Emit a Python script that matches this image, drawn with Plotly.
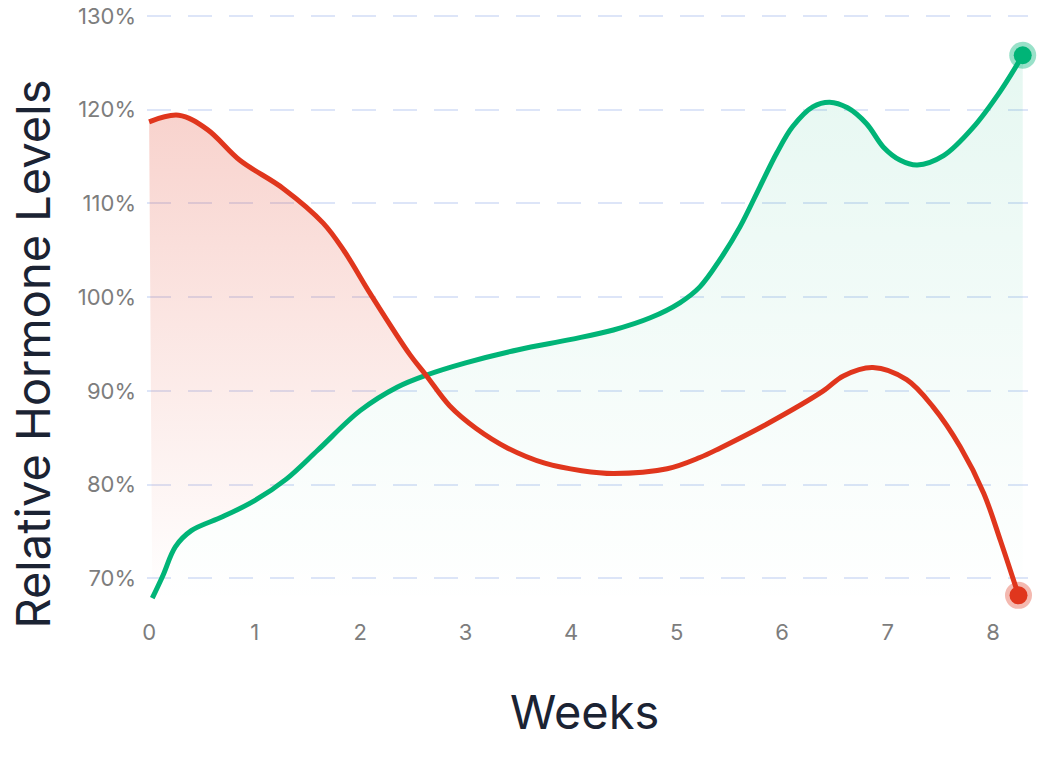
import plotly.graph_objects as go

# Weeks / relative levels (%)
red_x = [0.0, 0.28, 0.55, 0.86, 1.27, 1.65, 1.85, 2.1, 2.47, 2.63, 2.85, 3.1, 3.4,
         3.75, 4.1, 4.4, 4.91, 5.22, 5.41, 5.86, 6.39, 6.58, 6.86, 7.18, 7.43, 7.69, 7.91,
         8.07, 8.24]
red_y = [118.7, 119.4, 117.9, 114.6, 111.6, 107.9, 104.9, 100.3, 93.9, 91.6, 88.4,
         86.0, 83.9, 82.3, 81.5, 81.2, 81.7, 82.9, 83.9, 86.5, 90.0, 91.6, 92.5, 91.2, 88.3,
         84.0, 79.1, 74.0, 68.2]

green_x = [0.03, 0.13, 0.25, 0.4, 0.7, 1.0, 1.3, 1.6, 2.0, 2.35, 2.63, 3.0, 3.5, 4.0, 4.4,
           4.75, 5.03, 5.22, 5.41, 5.6, 5.79, 5.95, 6.1, 6.29, 6.45, 6.62, 6.8, 6.96, 7.12,
           7.28, 7.53, 7.81, 8.07, 8.28]
green_y = [67.9, 70.3, 73.4, 75.1, 76.6, 78.3, 80.6, 83.7, 87.9, 90.4, 91.7, 93.0, 94.4, 95.5,
           96.5, 97.8, 99.4, 101.1, 104.0, 107.5, 111.8, 115.4, 118.2, 120.3, 120.8, 120.2,
           118.5, 116.0, 114.6, 114.1, 115.1, 118.1, 122.0, 125.8]

x_ticks = [0, 1, 2, 3, 4, 5, 6, 7, 8]
y_ticks = [70, 80, 90, 100, 110, 120, 130]
y_labels = [f"{v}%" for v in y_ticks]

RED = "#e0361d"
GREEN = "#00b477"
crossing = 2.63

fig = go.Figure()

# shaded band where the red curve sits above the green one
band_x = [x for x in red_x if x <= crossing] + [x for x in green_x if x <= crossing][::-1]
band_y = ([y for x, y in zip(red_x, red_y) if x <= crossing]
          + [y for x, y in zip(green_x, green_y) if x <= crossing][::-1])
fig.add_trace(go.Scatter(
    x=band_x, y=band_y, mode="lines", fill="toself",
    line=dict(width=0, shape="spline"),
    fillgradient=dict(type="vertical", start=68, stop=119.5,
                      colorscale=[[0, "rgba(224,54,29,0)"], [1, "rgba(224,54,29,0.22)"]]),
    hoverinfo="skip", showlegend=False,
))

# green area down to the bottom
fig.add_trace(go.Scatter(
    x=green_x, y=green_y, mode="lines", fill="tozeroy",
    line=dict(width=0, shape="spline"),
    fillgradient=dict(type="vertical", start=67, stop=126,
                      colorscale=[[0, "rgba(0,180,119,0)"], [1, "rgba(0,180,119,0.1)"]]),
    hoverinfo="skip", showlegend=False,
))

for xs, ys, col in [(green_x, green_y, GREEN), (red_x, red_y, RED)]:
    fig.add_trace(go.Scatter(
        x=xs, y=ys, mode="lines",
        line=dict(color=col, width=5, shape="spline"),
        showlegend=False,
    ))

# end-point dots with a soft halo
for xs, ys, halo, col in [(green_x, green_y, "rgba(0,180,119,0.4)", GREEN),
                          (red_x, red_y, "rgba(224,54,29,0.35)", RED)]:
    fig.add_trace(go.Scatter(
        x=[xs[-1]], y=[ys[-1]], mode="markers", cliponaxis=False,
        marker=dict(size=27, color=halo), hoverinfo="skip", showlegend=False,
    ))
    fig.add_trace(go.Scatter(
        x=[xs[-1]], y=[ys[-1]], mode="markers", cliponaxis=False,
        marker=dict(size=18, color=col), showlegend=False,
    ))

tick_font = dict(family="Inter, sans-serif", size=22, color="#7d7d7d")
title_font = dict(family="Inter, sans-serif", size=47, color="#1b2333")

fig.update_layout(
    width=1040, height=759,
    margin=dict(l=147, r=12, t=14, b=143),
    paper_bgcolor="white", plot_bgcolor="white",
    xaxis=dict(
        range=[-0.02, 8.33], tickvals=x_ticks, showgrid=False, zeroline=False,
        showline=False, ticks="", tickfont=tick_font, ticklabelstandoff=1,
        automargin=False,
    ),
    yaxis=dict(
        range=[66, 130.2], tickvals=y_ticks, ticktext=y_labels, showgrid=True,
        gridcolor="#dde5f8", gridwidth=1.5, griddash="24px,17px", zeroline=False,
        showline=False, ticks="", tickfont=tick_font, ticklabelstandoff=10,
        ticklabeloverflow="allow", automargin=False,
    ),
    annotations=[
        dict(text="Weeks", xref="paper", yref="paper", x=0.497, y=-0.158,
             xanchor="center", yanchor="middle", showarrow=False, font=title_font),
        dict(text="Relative Hormone Levels", xref="paper", yref="paper", x=-0.13, y=0.435,
             xanchor="center", yanchor="middle", textangle=-90, showarrow=False,
             font=title_font),
    ],
)

# drop the default page margin so the figure sits flush in the window
fig.write_html(
    "out.html",
    config={"displayModeBar": False},
    post_script="document.body.style.margin='0';",
)
